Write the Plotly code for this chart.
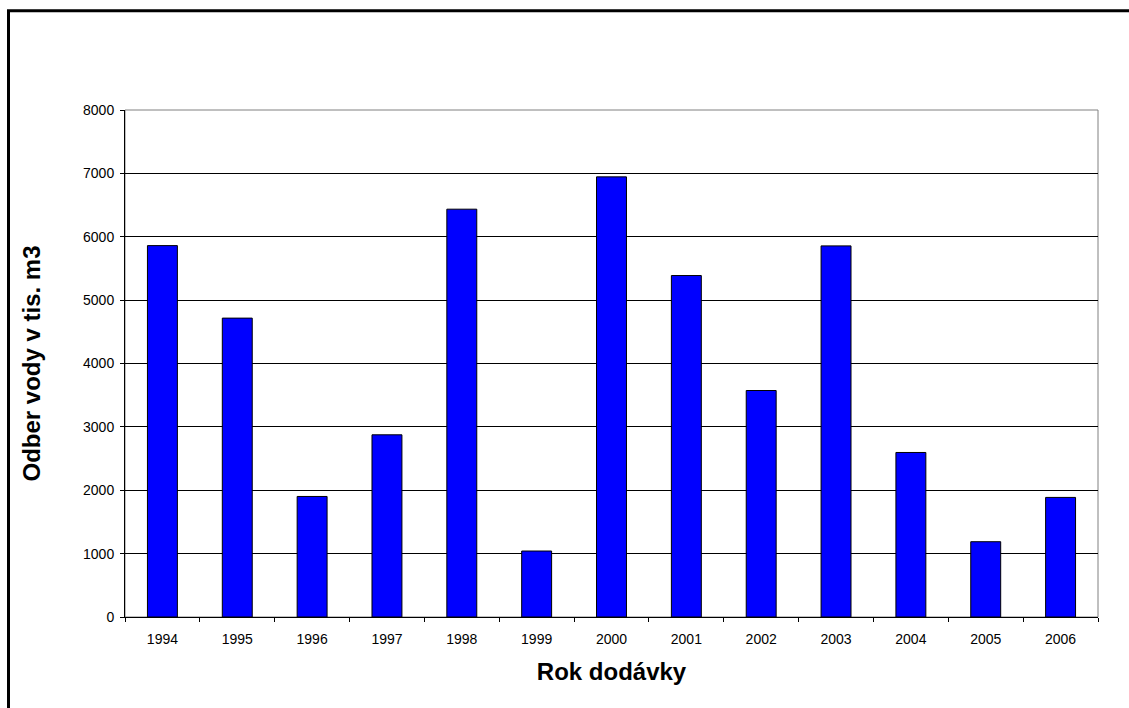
import plotly.graph_objects as go

# Annual water withdrawal (thousand m3) by delivery year
years = ["1994", "1995", "1996", "1997", "1998", "1999", "2000",
         "2001", "2002", "2003", "2004", "2005", "2006"]
odber = [5860, 4716, 1902, 2875, 6435, 1041, 6945,
         5388, 3574, 5856, 2596, 1188, 1887]
y_ticks = [0, 1000, 2000, 3000, 4000, 5000, 6000, 7000, 8000]

W, H = 1129, 708
L, R, T, B = 125, 31, 110, 91
pw, ph = W - L - R, H - T - B


def px_x(p):
    return (p - L) / pw


def px_y(p):
    return (H - B - p) / ph


FONT = "Liberation Sans, Arial, sans-serif"

fig = go.Figure(
    go.Bar(
        x=years,
        y=odber,
        marker=dict(color="#0000FF", line=dict(color="#000000", width=1)),
        showlegend=False,
    )
)

fig.update_layout(
    width=W,
    height=H,
    margin=dict(l=L, r=R, t=T, b=B),
    paper_bgcolor="white",
    plot_bgcolor="white",
    bargap=0.6,
    font=dict(family=FONT, color="black", size=14),
    shapes=[
        # grey frame around the plot area
        dict(type="rect", xref="paper", yref="paper", x0=0, y0=0, x1=1, y1=1,
             line=dict(color="#808080", width=1), layer="below"),
        # heavy outer chart frame
        dict(type="rect", xref="paper", yref="paper",
             x0=px_x(8.5), y0=px_y(760), x1=px_x(1180), y1=px_y(10.8),
             line=dict(color="black", width=3)),
    ],
)

fig.update_xaxes(
    type="category",
    automargin=False,
    showline=True, linecolor="black", linewidth=1,
    ticks="outside", ticklen=4, tickcolor="black", tickson="boundaries",
    ticklabelstandoff=9,
    showgrid=False,
    tickfont=dict(size=14),
    title=dict(text="<b>Rok dodávky</b>", font=dict(size=24), standoff=17),
)

fig.update_yaxes(
    range=[0, 8000],
    tickvals=y_ticks,
    automargin=False,
    showline=True, linecolor="black", linewidth=1,
    ticks="outside", ticklen=4, tickcolor="black",
    ticklabelstandoff=3,
    showgrid=True, gridcolor="black", gridwidth=1,
    zeroline=False,
    tickfont=dict(size=14),
    title=dict(text="<b>Odber vody v tis. m3</b>", font=dict(size=24), standoff=35),
)

fig.write_html("out.html")
